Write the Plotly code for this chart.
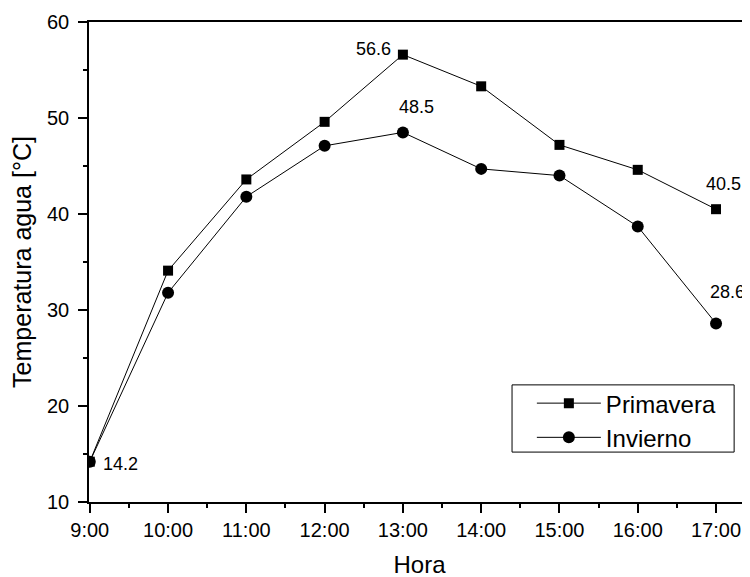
import plotly.graph_objects as go

hours = [9, 10, 11, 12, 13, 14, 15, 16, 17]
tick_labels = ["9:00", "10:00", "11:00", "12:00", "13:00", "14:00", "15:00", "16:00", "17:00"]
primavera = [14.2, 34.1, 43.6, 49.6, 56.6, 53.3, 47.2, 44.6, 40.5]
invierno = [14.2, 31.8, 41.8, 47.1, 48.5, 44.7, 44.0, 38.7, 28.6]

font_family = "Liberation Sans, Arial, sans-serif"

fig = go.Figure()
fig.add_trace(go.Scatter(
    x=hours, y=primavera, name="Primavera", mode="lines+markers",
    line=dict(color="black", width=1),
    marker=dict(symbol="square", size=10, color="black"),
))
fig.add_trace(go.Scatter(
    x=hours, y=invierno, name="Invierno", mode="lines+markers",
    line=dict(color="black", width=1),
    marker=dict(symbol="circle", size=12, color="black"),
))

# (x, y, text, xanchor, xshift, yshift)
anns = [
    (13, 56.6, "56.6", "right", -10, 6),
    (13, 48.5, "48.5", "center", 14, 25),
    (17, 40.5, "40.5", "center", 7, 25),
    (17, 28.6, "28.6", "center", 11, 31),
    (9, 14.2, "14.2", "left", 11, -2),
]
for x, y, t, xa, dx, dy in anns:
    fig.add_annotation(x=x, y=y, text=t, showarrow=False, xanchor=xa, yanchor="middle",
                       xshift=dx, yshift=dy, font=dict(size=18, color="black", family=font_family))

# legend frame
fig.add_shape(type="rect", xref="paper", yref="paper", x0=0.640, x1=0.976, y0=0.104, y1=0.244,
              line=dict(color="black", width=1), fillcolor="rgba(0,0,0,0)", layer="above")

fig.update_layout(
    width=750, height=577,
    margin=dict(l=81, r=8, t=14, b=83),
    paper_bgcolor="white", plot_bgcolor="white",
    font=dict(family=font_family, color="black"),
    showlegend=True,
    legend=dict(
        x=0.670, y=0.252, xanchor="left", yanchor="top",
        borderwidth=0, bgcolor="rgba(0,0,0,0)",
        font=dict(size=24, family=font_family, color="black"),
        tracegroupgap=0, itemwidth=64,
    ),
    xaxis=dict(
        range=[8.99, 17.434], tickmode="array", tickvals=hours, ticktext=tick_labels,
        automargin=False,
        showgrid=False, zeroline=False, showline=True, linecolor="black", linewidth=1.5,
        mirror=True, ticks="outside", ticklen=9, tickwidth=1.5, tickcolor="black",
        tickfont=dict(size=20, color="black"),
        minor=dict(dtick=0.5, ticks="outside", ticklen=4, tickwidth=1.5, tickcolor="black"),
        title=dict(text="Hora", font=dict(size=24, color="black"), standoff=16),
    ),
    yaxis=dict(
        range=[10, 60], tickvals=[10, 20, 30, 40, 50, 60],
        automargin=False, ticklabelstandoff=5,
        showgrid=False, zeroline=False, showline=True, linecolor="black", linewidth=1.5,
        mirror=False, ticks="outside", ticklen=9, tickwidth=1.5, tickcolor="black",
        tickfont=dict(size=20, color="black"),
        minor=dict(dtick=5, ticks="outside", ticklen=4, tickwidth=1.5, tickcolor="black"),
        title=dict(text="Temperatura agua [°C]", font=dict(size=25, color="black"), standoff=21),
    ),
)

fig.write_html("out.html")
